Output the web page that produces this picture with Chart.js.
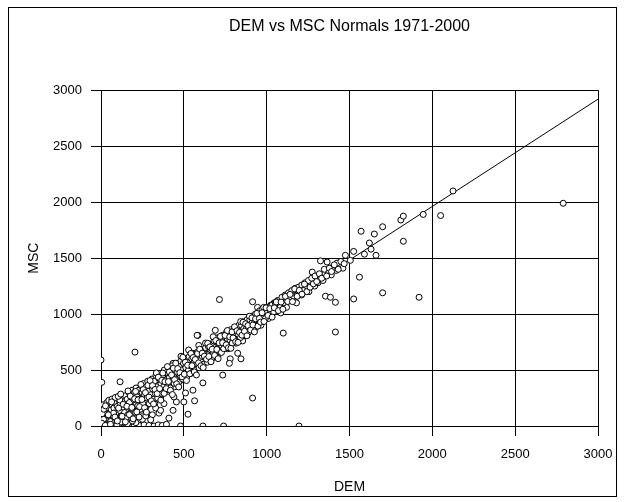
<!DOCTYPE html>
<html>
<head>
<meta charset="utf-8">
<script src="https://cdn.jsdelivr.net/npm/chart.js@4"></script>
<style>
html,body{margin:0;padding:0;background:#fff;}
#wrap{width:626px;height:502px;position:relative;}
</style>
</head>
<body>
<div id="wrap"><canvas id="c" width="626" height="502"></canvas></div>
<script>
const chartTitle = 'DEM vs MSC Normals 1971-2000';
const xTitle = 'DEM';
const yTitle = 'MSC';
const axisTicks = [0, 500, 1000, 1500, 2000, 2500, 3000];
const tickLabels = ['0', '500', '1000', '1500', '2000', '2500', '3000'];

// Station values (DEM elevation, MSC elevation)
const demValues = [
  0,5,10,15,20,25,30,35,40,45,50,55,60,65,70,75,80,85,90,95,100,105,110,115,120,
  0,0,5,10,20,30,50,60,70,80,90,100,110,120,0,5,115,
  40,80,120,150,175,200,230,260,290,320,345,370,395,480,615,740,1195,140,180,60,
  130,140,145,150,160,165,170,180,185,190,200,205,210,215,220,230,235,240,245,250,
  260,265,270,275,280,290,295,300,305,310,320,325,330,340,345,350,355,360,370,375,
  380,390,395,400,405,410,415,420,425,430,435,440,445,450,455,460,470,475,480,490,
  495,500,500,510,525,565,555,615,205,230,350,290,230,130,25,100,390,435,555,590,
  510,515,520,530,535,540,550,555,560,570,575,580,585,590,600,605,610,620,625,630,
  640,645,650,655,660,670,675,680,690,690,695,700,705,710,715,720,725,730,735,740,
  745,750,760,765,770,775,780,785,790,800,805,810,815,820,830,835,840,845,850,855,
  860,870,875,880,885,890,900,905,910,915,915,920,930,935,940,945,950,955,960,965,
  970,980,985,990,1000,1005,1010,775,845,825,580,
  1020,1025,1030,1040,1045,1050,1060,1065,1070,1080,1085,1090,1100,1100,1110,1115,1120,1130,1140,1150,
  1160,1170,1180,1190,1200,1210,1220,1230,1240,1250,1255,1265,1275,1280,1290,1300,1310,1320,1325,1340,
  1350,1355,1370,1385,1390,1400,1415,1415,1420,1440,1460,1475,1505,1525,1525,1560,1570,1590,1620,1630,
  1650,1660,1700,1700,1810,1825,1825,1920,1945,2050,2125,2790,1365,1425,1395
];
const mscValues = [
  0,15,0,35,10,60,25,0,45,80,20,65,100,40,0,90,55,120,75,20,105,140,60,95,150,
  50,100,70,130,160,90,130,170,130,180,150,200,180,110,590,390,395,
  0,5,0,5,0,10,5,10,5,0,10,5,15,0,0,0,0,25,40,10,
  130,170,100,220,150,60,260,190,130,230,170,280,210,90,250,190,300,230,140,270,
  320,230,290,180,340,280,230,320,370,260,300,200,350,390,300,410,340,250,380,330,
  430,360,470,400,310,70,440,380,500,420,140,460,350,520,215,450,490,400,550,470,
  605,215,510,295,105,225,320,385,660,295,115,100,55,30,55,230,480,560,650,720,
  490,540,460,520,580,500,560,600,520,570,630,540,810,590,560,640,600,660,580,620,
  680,600,650,700,620,670,720,640,855,700,660,740,690,640,1130,720,770,690,455,740,
  800,720,760,690,800,740,600,780,830,760,800,860,740,810,850,780,880,820,860,760,
  900,850,880,930,830,890,920,860,950,250,1110,900,940,880,980,1060,920,960,1000,900,
  970,1010,950,1040,990,1060,960,560,600,650,810,
  1030,1080,990,1050,1100,1020,1070,1120,1040,1090,1010,1130,830,1080,1150,1100,1060,1130,1180,1120,
  1200,1150,1100,1190,1220,1170,1250,1200,1230,1280,1200,1260,1375,1300,1250,1310,1280,1340,1475,1300,
  1360,1160,1390,1150,1350,1420,1105,840,1390,1440,1410,1525,1480,1135,1560,1330,1740,1535,1635,1580,
  1715,1525,1780,1190,1840,1875,1650,1150,1890,1880,2100,1990,1465,1455,1400
];

// More stations from the dense part of the cloud
const demCloud = [
  8,12,18,22,28,33,38,42,48,52,58,62,68,72,78,82,88,92,98,102,
  108,112,118,122,128,132,138,142,148,152,158,162,168,172,178,182,188,192,198,202,
  208,212,218,222,228,232,238,242,248,252,258,262,268,272,278,282,288,292,298,302,
  308,312,318,322,328,332,338,342,348,352,358,362,368,372,378,382,388,392,398,402,
  408,412,418,422,428,432,438,442,448,452,458,462,468,472,478,482,488,492,498,502,
  508,512,518,522,528,532,538,542,548,552,558,562,568,572,578,582,588,592,598,602,
  608,612,618,622,628,632,638,642,648,652,658,662,668,672,678,682,688,692,698,702,
  708,712,718,722,728,732,738,742,748,752,758,762,768,772,778,782,788,792,798,802,
  808,812,818,822,828,832,838,842,848,852,858,862,868,872,878,882,888,892,898,902,
  908,912,918,922,928,932,938,942,948,952,958,962,968,972,978,982,988,992,998,1002,
  1012,1022,1032,1042,1052,1062,1072,1082,1092,1102,1112,1122,1132,1142,1152,1162,1172,1182,1192,1202,
  1212,1222,1232,1242,1252,1262,1272,1282,1292,1302,1318,1332,1348,1362,1378,1392,1408,1432,1448,1468,
  160,210,250,310,330,270,380,440,360,190,230,120,300,150,95,45,30,15,5,25
];
const mscCloud = [
  45,85,25,115,70,140,95,20,160,110,40,145,190,95,160,30,210,120,175,50,
  230,140,200,75,250,170,215,120,270,185,240,100,300,210,160,260,320,150,235,300,
  120,340,260,180,320,240,150,360,300,200,380,280,160,350,250,400,310,200,390,280,
  420,330,240,400,290,450,350,250,430,320,470,380,290,450,350,500,410,320,480,370,
  520,430,340,490,400,540,450,380,500,420,560,480,390,530,450,580,500,420,560,470,
  600,520,440,570,500,620,540,470,600,530,640,570,500,620,560,660,600,520,650,590,
  680,620,550,680,610,700,640,570,710,640,730,680,600,720,660,760,700,630,760,690,
  790,730,660,790,720,810,760,690,800,740,840,780,710,830,770,860,800,740,850,790,
  880,820,760,870,820,900,840,790,900,850,930,870,810,920,870,950,900,840,950,900,
  980,920,870,980,930,1000,950,900,1010,960,1030,980,930,1040,990,1060,1010,960,1060,1020,
  1060,1010,1080,1020,1100,1050,1120,1060,1150,1100,1170,1120,1190,1140,1210,1160,1230,1170,1240,1190,
  1260,1210,1280,1200,1300,1240,1320,1270,1340,1290,1360,1320,1400,1340,1410,1380,1440,1400,1470,1450,
  20,30,60,100,160,90,200,260,140,45,80,35,55,70,30,10,5,60,25,110
];

// Stations spread across the width of the cloud
const demSpread = [
  113,127,134,147,156,163,171,177,186,194,203,209,216,224,233,241,247,255,263,268,274,283,289,296,304,311,317,326,334,339,
  346,354,361,367,373,381,386,394,401,407,413,419,426,431,437,444,451,457,463,469,476,483,489,494,503,509,516,523,529,536,
  543,549,557,563,569,576,583,589,596,603,611,617,624,631,637,644,651,657,664,671,677,686,693,699,707,713,721,727,734,741,
  749,756,763,769,777,784,791,797,806,813,821,827,836,843,851,857,866,873,881,887,896,903,911,917,926,933,941,947,956,963,
  972,984,996,1008,1019,1033,1046,1058,1071,1087,1098,1113,1127,1141,1156,1169,1184,1197,1213,1228,
  3,14,26,36,47,57,66,76,86,96,104,7,17,27,44,64,84,99,106,119
];
const mscSpread = [
  233,87,194,37,176,313,101,267,166,64,243,309,126,234,173,371,237,325,163,298,124,363,259,406,224,361,197,326,474,289,
  436,334,231,407,473,291,396,334,531,397,483,319,456,281,517,414,561,377,513,349,476,623,439,614,463,569,406,543,679,466,
  648,539,612,483,594,456,648,564,686,538,651,522,624,741,597,739,621,707,574,686,797,631,763,684,602,743,801,657,744,691,
  809,726,853,699,797,694,841,787,886,753,851,747,836,933,811,927,846,913,806,897,981,858,966,902,841,958,1006,892,961,928,
  1012,934,1056,988,1049,973,1056,1108,1031,1107,1043,1158,1112,1176,1111,1224,1159,1212,1178,1268,
  160,190,5,210,230,15,240,115,255,10,265,110,150,180,100,215,80,45,160,285
];

// Linear trend line end points
const trendDem = [0, 3000];
const trendMsc = [45, 2920];

const allDem = demValues.concat(demCloud, demSpread);
const allMsc = mscValues.concat(mscCloud, mscSpread);
const points = allDem.map((d, i) => ({x: d, y: allMsc[i]}));
const trend = trendDem.map((d, i) => ({x: d, y: trendMsc[i]}));

const FONT = "'Liberation Sans', Arial, sans-serif";

const frame = {
  id: 'frame',
  beforeDraw(chart) {
    const ctx = chart.ctx;
    ctx.save();
    ctx.fillStyle = '#fff';
    ctx.fillRect(0, 0, chart.width, chart.height);
    ctx.strokeStyle = '#000';
    ctx.lineWidth = 1;
    ctx.strokeRect(8.5, 7.5, 608, 489);
    ctx.restore();
  }
};

const tickCb = (v) => tickLabels[axisTicks.indexOf(v)] ?? '';

new Chart(document.getElementById('c'), {
  type: 'scatter',
  data: {
    datasets: [
      {
        label: 'MSC',
        data: points,
        pointRadius: 3,
        pointHoverRadius: 3,
        pointBackgroundColor: '#fff',
        pointBorderColor: '#000',
        pointBorderWidth: 1
      },
      {
        type: 'line',
        label: 'Trend',
        data: trend,
        borderColor: '#000',
        borderWidth: 1,
        pointRadius: 0,
        fill: false
      }
    ]
  },
  options: {
    responsive: false,
    animation: false,
    devicePixelRatio: 1,
    layout: {padding: {left: 18, right: 28, top: 10, bottom: 6}},
    plugins: {
      legend: {display: false},
      tooltip: {enabled: false},
      title: {
        display: true,
        text: chartTitle,
        fullSize: false,
        color: '#000',
        font: {family: FONT, size: 16, weight: 'normal'},
        padding: {top: 7, bottom: 54}
      }
    },
    scales: {
      x: {
        type: 'linear',
        min: 0, max: 3000,
        afterBuildTicks(scale) { scale.ticks = axisTicks.map(v => ({value: v})); },
        afterFit(scale) { scale.height = 502 - 6 - 426; },
        ticks: {color: '#000', font: {family: FONT, size: 13}, padding: 11, callback: tickCb},
        grid: {color: '#000', lineWidth: 1, tickLength: 10},
        border: {color: '#000', width: 1},
        title: {display: true, text: xTitle, color: '#000', font: {family: FONT, size: 14}, padding: {top: 0, bottom: 0}}
      },
      y: {
        type: 'linear',
        min: 0, max: 3000,
        afterBuildTicks(scale) { scale.ticks = axisTicks.map(v => ({value: v})); },
        afterFit(scale) { scale.width = 101 - 18; },
        ticks: {color: '#000', font: {family: FONT, size: 13}, padding: 9, callback: tickCb},
        grid: {color: '#000', lineWidth: 1, tickLength: 10},
        border: {color: '#000', width: 1},
        title: {display: true, text: yTitle, color: '#000', font: {family: FONT, size: 14}, padding: {top: 8, bottom: 0}}
      }
    }
  },
  plugins: [frame]
});
</script>
</body>
</html>
